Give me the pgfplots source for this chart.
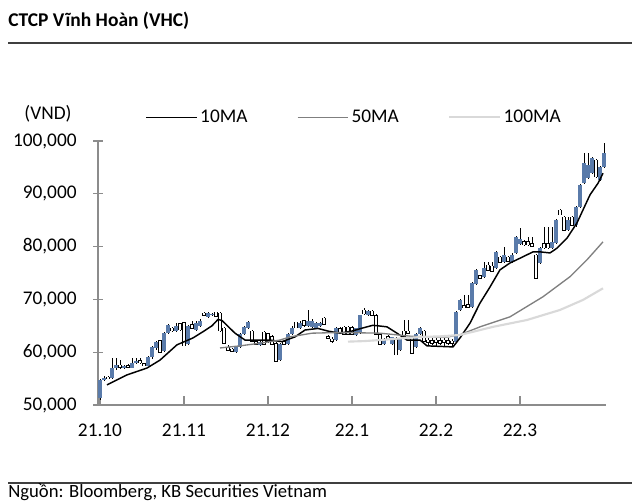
\documentclass[border=0pt]{standalone}
\usepackage{fontspec}
\setmainfont{Carlito}
\usepackage{pgfplots}
\usepackage{pgfplotstable}
\pgfplotsset{compat=1.18}
\definecolor{upblue}{HTML}{5A7BAA}
\definecolor{ma50}{HTML}{7F7F7F}
\definecolor{ma100}{HTML}{D9D9D9}
\definecolor{axisgray}{HTML}{8C8C8C}
\definecolor{rulegray}{HTML}{3F3F3F}
\pgfplotstableread{
d o h l c
0 51300 55000 51000 54800
1 54800 55500 54500 55200
2 55300 55500 55000 55100
3 55200 58900 55000 57000
4 57000 58900 56600 57600
5 57600 58500 56800 57100
6 57000 57600 56800 57400
7 57500 57700 57000 57100
8 57100 58900 57000 58000
9 58000 58900 57800 58400
10 58400 58900 57800 58000
11 57800 58000 57300 57400
12 57400 59200 57300 59000
13 59000 61200 58800 61000
14 60800 62200 60500 62000
15 62200 62400 59900 60000
16 60200 63800 60000 63700
17 63700 65300 63500 65200
18 64600 64800 63800 64000
19 64000 65600 63900 65000
20 65400 65600 64000 64200
21 65600 65700 61100 61200
22 61500 65200 61300 65000
23 65300 65900 64300 64500
24 64200 65900 64000 65500
25 65000 66200 64800 66000
26 67400 67600 66800 67000
27 66600 67600 66400 67500
28 67000 67500 66800 67300
29 67600 67700 66700 66800
30 67400 67600 63800 64000
31 64600 64800 61600 61700
32 61000 61300 60200 60300
33 60600 60800 60000 60100
34 60000 61200 59900 61000
35 61000 63600 60800 63500
36 63500 65000 63300 64800
37 64500 65900 64300 65800
38 64000 64200 61900 62000
39 62000 62200 61300 61500
40 61300 62200 61100 62000
41 63800 64000 61400 61500
42 63500 63700 61800 62000
43 63000 63200 61300 61500
44 61700 61900 58100 58200
45 58500 61700 58300 61500
46 62000 62300 61300 61500
47 61500 63700 61300 63500
48 63500 65000 63300 64500
49 65700 65800 64500 64600
50 64500 66000 64300 65500
51 66000 66100 64800 65000
52 65000 68000 64800 66000
53 64800 66200 64600 66000
54 64500 65800 64300 65500
55 65000 65800 64800 65500
56 66500 66700 65100 65200
57 63000 63200 62500 62600
58 62500 62800 61800 62000
59 62300 64700 62100 64500
60 64500 64700 63700 63800
61 64800 64900 63200 63300
62 64800 64900 63200 63300
63 64700 64900 63200 63300
64 63300 64600 63100 64500
65 63600 67100 63400 67000
66 68000 68300 67100 67200
67 67000 68000 66800 67800
68 67800 68000 66900 67000
69 67000 67200 63200 63300
70 63300 63500 61400 61500
71 61500 62700 61300 62500
72 63000 63200 62400 62500
73 61500 62900 61300 62800
74 62700 62900 59400 59500
75 60500 62700 60300 62500
76 64000 66100 62900 63000
77 64000 66100 63400 63500
78 62700 62900 59700 59800
79 61000 63700 60800 63500
80 63500 64800 63300 64500
81 64000 64200 61900 62000
82 62300 62700 61200 61800
83 62200 62700 61300 61700
84 62300 62700 61200 61800
85 62200 62600 61300 61700
86 62300 62700 61200 61800
87 62200 62600 61300 61700
88 62100 62500 61200 61600
89 62000 67800 61800 67600
90 68000 70100 67800 69900
91 68900 70800 68300 68400
92 69000 70800 68400 68500
93 68600 73200 68400 73100
94 73000 75800 72800 75600
95 74500 74700 73800 74000
96 74300 77000 74100 76000
97 76500 77000 75400 75500
98 76300 77000 75200 75300
99 75900 79200 75700 79000
100 78000 78200 76900 77000
101 77000 80000 76800 78500
102 78000 78300 77100 77200
103 77000 78700 76800 78500
104 78800 82000 78600 81800
105 80500 83500 80300 81500
106 81000 81300 80200 80300
107 81000 81800 80200 80300
108 80600 81800 79900 80000
109 78400 78600 73900 74000
110 76900 79900 76700 79700
111 80600 83700 79600 79700
112 80600 83700 79600 79700
113 79700 83700 79500 80800
114 80600 85200 80400 85000
115 86900 87200 85900 86000
116 85600 85800 83000 83100
117 83100 85600 82900 85000
118 85600 85800 83900 84000
119 84000 87700 83800 87500
120 87500 91900 87300 91700
121 92000 97700 91800 95800
122 93000 97700 92800 95500
123 94000 97000 93800 96800
124 96400 96600 93000 93200
125 92600 95300 92400 95100
126 95100 99600 94900 97700
}\ohlc
\begin{document}
\begin{tikzpicture}
\useasboundingbox (0pt,0pt) rectangle (480pt,377.25pt);
\node[anchor=west, inner sep=0pt, font=\bfseries\fontsize{14.6}{18}\selectfont] at (6pt,361.5pt) {CTCP Vĩnh Hoàn (VHC)};
\draw[rulegray, line width=1.1pt] (6pt,345pt) -- (474pt,345pt);
\draw[rulegray, line width=1.1pt] (6pt,15pt) -- (474pt,15pt);
\node[anchor=west, inner sep=0pt, font=\fontsize{14}{16}\selectfont] at (6pt,8pt) {Nguồn: Bloomberg, KB Securities Vietnam};
\node[inner sep=0pt, font=\fontsize{14.5}{16}\selectfont] at (36pt,291.75pt) {(VND)};
\begin{axis}[
  at={(73.5pt,73.5pt)}, anchor=south west,
  scale only axis, width=381pt, height=198pt,
  xmin=-0.5, xmax=126.5, ymin=50000, ymax=100000,
  axis x line=bottom, axis y line=left,
  axis line style={-, draw=axisgray, line width=0.9pt},
  xtick={0,21,42,63,84,105},
  xticklabels={21.10,21.11,21.12,22.1,22.2,22.3},
  ytick={50000,60000,70000,80000,90000,100000},
  yticklabels={{50,000},{60,000},{70,000},{80,000},{90,000},{100,000}},
  scaled y ticks=false,
  tick label style={font=\fontsize{14.5}{16}\selectfont, text=black},
  tick style={draw=axisgray, line width=0.9pt},
  major tick length=7pt,
  tick align=inside,
  ytick style={xshift=-3.5pt},
  yticklabel style={xshift=-12.5pt},
  xticklabel style={yshift=-11pt},
  legend columns=3,
  legend style={at={(0.085,1.09)}, anchor=west, draw=none, fill=none,
    font=\fontsize{14.5}{16}\selectfont,
    /tikz/every even column/.append style={column sep=35pt}},
  legend image code/.code={\draw[#1] (0pt,0pt) -- (38pt,0pt);},
]
% wicks
\addplot[forget plot, draw=none, mark=none,
  error bars/.cd, y dir=both, y explicit, error mark=none,
  error bar style={draw=black, line width=0.45pt}]
  table[x=d, y expr={(\thisrow{h}+\thisrow{l})/2}, y error expr={(\thisrow{h}-\thisrow{l})/2}] {\ohlc};
% up bodies
\addplot[forget plot, draw=none, mark=none,
  restrict expr to domain={\thisrow{c}-\thisrow{o}}{0:1000000},
  error bars/.cd, y dir=both, y explicit, error mark=none,
  error bar style={draw=upblue, line width=3pt}]
  table[x=d, y expr={(\thisrow{o}+\thisrow{c})/2}, y error expr={abs(\thisrow{c}-\thisrow{o})/2}] {\ohlc};
% down bodies outline
\addplot[forget plot, draw=none, mark=none,
  restrict expr to domain={\thisrow{c}-\thisrow{o}}{-1000000:-1},
  error bars/.cd, y dir=both, y explicit, error mark=none,
  error bar style={draw=black, line width=2.8pt}]
  table[x=d, y expr={(\thisrow{o}+\thisrow{c})/2}, y error expr={abs(\thisrow{c}-\thisrow{o})/2+60}] {\ohlc};
% down bodies fill
\addplot[forget plot, draw=none, mark=none,
  restrict expr to domain={\thisrow{c}-\thisrow{o}}{-1000000:-1},
  error bars/.cd, y dir=both, y explicit, error mark=none,
  error bar style={draw=white, line width=1.9pt}]
  table[x=d, y expr={(\thisrow{o}+\thisrow{c})/2}, y error expr={max(abs(\thisrow{c}-\thisrow{o})/2-60,0)}] {\ohlc};
% moving averages
\addplot[black, line width=1.1pt] coordinates {
(1.75,53800) (6.75,55700) (11.75,57000) (15,58500) (19.25,61400) (23.25,62700) (26,64000) (28,65000)
(29.5,66200) (30.5,66000) (33.75,63600) (36.25,62300) (39.5,62300) (42.5,62300) (45.5,62000) (48.75,62900)
(51.25,64200) (54.5,64500) (57,64000) (60,63600) (63,64000) (65.75,64600) (68.25,65100) (71.75,64800)
(74.25,63600) (76.75,62300) (80,62300) (81.75,61200) (88.25,61000) (90,62700) (92.5,65500) (95,69300)
(97.5,72350) (100,75600) (102.5,76900) (105,77800) (108.25,79000) (110,79000) (112.5,78800) (114.25,79700)
(116.75,81600) (119.25,84500) (122.5,89800) (124.5,92000) (125.75,93900)};
\addlegendentry{10MA}
\addplot[ma50, line width=1pt] coordinates {
(30,60800) (35,61200) (40,61700) (45,62300) (47.5,62900) (53,63600) (58,63700) (63,63700) (70,63600)
(78,63000) (84,62900) (87,62900) (90,63300) (95,64800) (102.5,66700) (110.75,70500) (117.5,74300)
(121.75,77500) (125.75,80900)};
\addlegendentry{50MA}
\addplot[ma100, line width=1.6pt] coordinates {
(62,62000) (66,62100) (70,62300) (75,62600) (80.75,62900) (85,63000) (90,63260) (98.25,64800)
(106.75,66100) (115,68000) (120.75,69900) (125.75,72100)};
\addlegendentry{100MA}
\end{axis}
\end{tikzpicture}
\end{document}
